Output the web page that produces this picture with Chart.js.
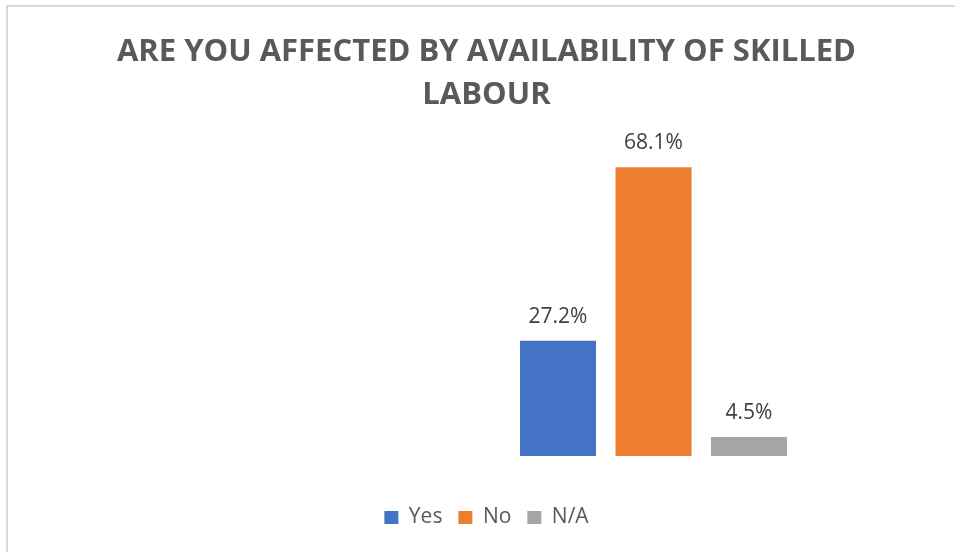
<!DOCTYPE html>
<html>
<head>
<meta charset="utf-8">
<script src="https://cdn.jsdelivr.net/npm/chart.js@4.4.1/dist/chart.umd.min.js"></script>
<style>
  html, body { margin: 0; padding: 0; background: #ffffff; }
  #wrap { position: relative; width: 955px; height: 552px; overflow: hidden; }
  #frame { position: absolute; left: 6px; top: 5px; width: 960px; height: 560px;
           border-left: 2px solid #d9d9d9; border-top: 2px solid #d9d9d9; box-sizing: border-box; }
  canvas { position: absolute; left: 0; top: 0; }
</style>
</head>
<body>
<div id="wrap">
  <div id="frame"></div>
  <canvas id="c" width="955" height="552"></canvas>
</div>
<script>
const titleLines = ['ARE YOU AFFECTED BY AVAILABILITY OF SKILLED', 'LABOUR'];
const categories = [''];
const seriesNames = ['Yes', 'No', 'N/A'];
const seriesValues = [[27.2], [68.1], [4.5]];
const seriesColors = ['#4472C4', '#ED7D31', '#A5A5A5'];

const datasets = seriesNames.map((name, i) => ({
  label: name,
  data: seriesValues[i],
  backgroundColor: seriesColors[i],
  borderWidth: 0,
  barPercentage: 0.796,
  categoryPercentage: 0.475
}));

const valueLabels = {
  id: 'valueLabels',
  afterDatasetsDraw(chart) {
    const ctx = chart.ctx;
    ctx.save();
    ctx.font = '21px "Open Sans"';
    ctx.fillStyle = '#404040';
    ctx.textAlign = 'center';
    ctx.textBaseline = 'alphabetic';
    chart.data.datasets.forEach((ds, i) => {
      const meta = chart.getDatasetMeta(i);
      meta.data.forEach((bar, j) => {
        const v = ds.data[j];
        ctx.fillText(v.toFixed(1) + '%', bar.x, bar.y - 18);
      });
    });
    ctx.restore();
  }
};

new Chart(document.getElementById('c'), {
  type: 'bar',
  data: { labels: categories, datasets: datasets },
  options: {
    responsive: false,
    animation: false,
    layout: { padding: { left: 18, right: 0, top: 0, bottom: 14 } },
    scales: {
      x: {
        display: true,
        grid: { display: false },
        border: { display: false },
        ticks: { display: false },
        afterFit: (scale) => { scale.height = 35; }
      },
      y: {
        min: 0, max: 80,
        grid: { display: false },
        border: { display: false },
        ticks: { display: false },
        afterFit: (scale) => { scale.width = 334; }
      }
    },
    plugins: {
      title: {
        display: true,
        text: titleLines,
        color: '#595959',
        font: { family: 'Open Sans', weight: 'bold', size: 31, lineHeight: 1.4 },
        padding: { top: 30, bottom: 0 }
      },
      legend: {
        position: 'bottom',
        labels: {
          boxWidth: 14, boxHeight: 13, padding: 16,
          color: '#595959',
          font: { family: 'Open Sans', size: 21 }
        }
      },
      tooltip: { enabled: false }
    }
  },
  plugins: [valueLabels]
});
</script>
</body>
</html>
